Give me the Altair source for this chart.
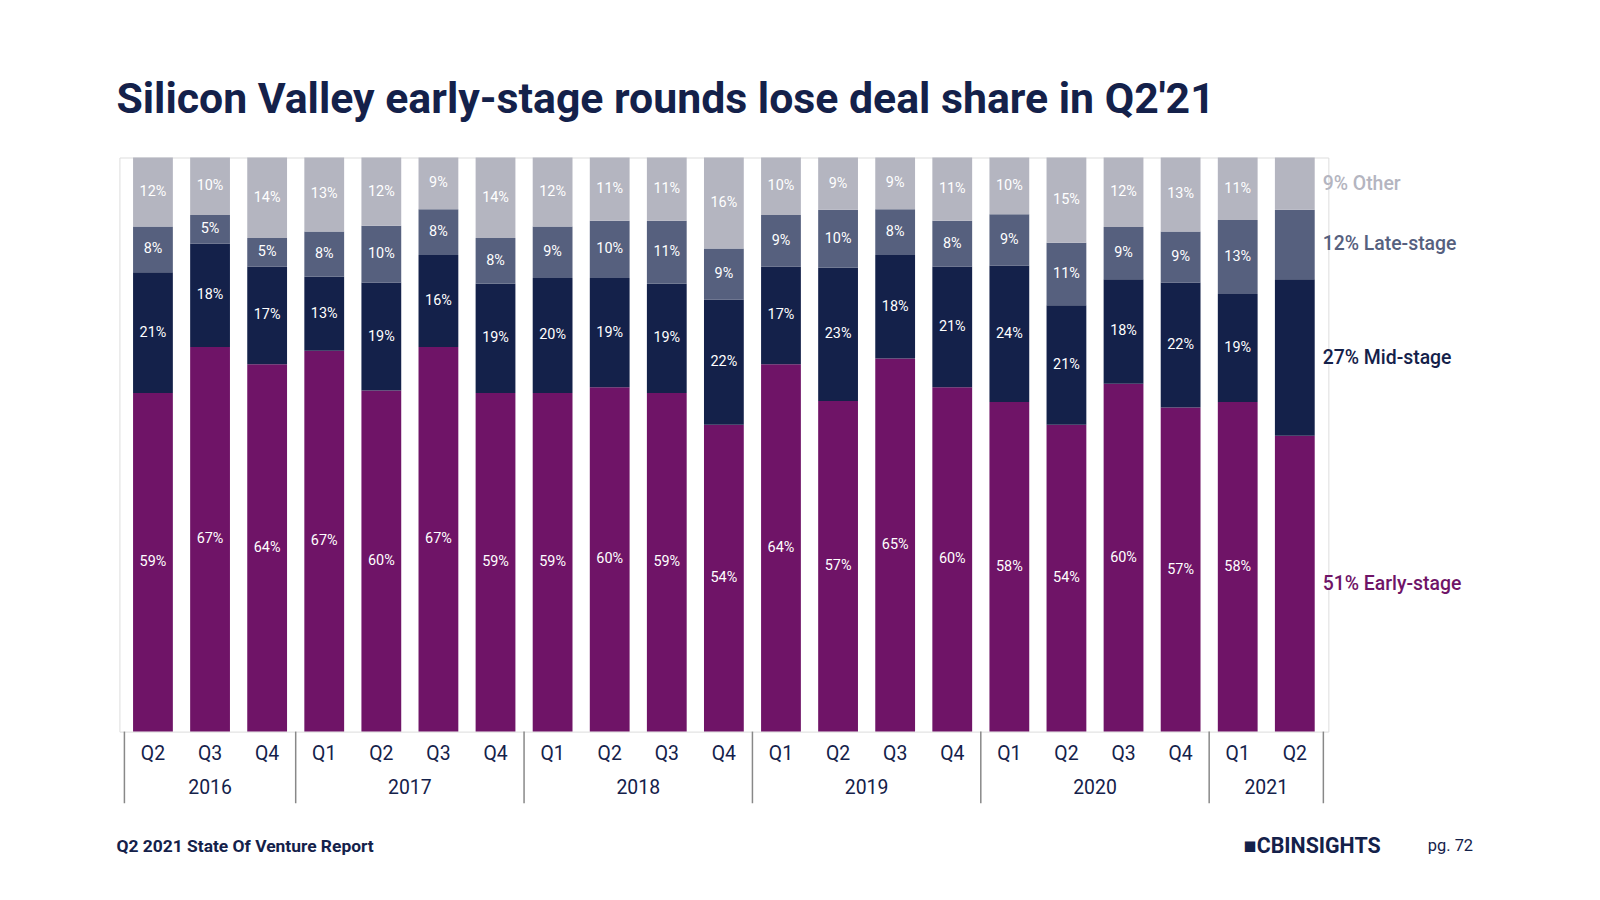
import altair as alt
import pandas as pd

quarters = ["Q2", "Q3", "Q4", "Q1", "Q2", "Q3", "Q4", "Q1", "Q2", "Q3", "Q4",
            "Q1", "Q2", "Q3", "Q4", "Q1", "Q2", "Q3", "Q4", "Q1", "Q2"]
years = ["2016", "2017", "2018", "2019", "2020", "2021"]
year_counts = [3, 4, 4, 4, 4, 2]

early = [59, 67, 64, 67, 60, 67, 59, 59, 60, 59, 54, 64, 57, 65, 60, 58, 54, 60, 57, 58, 51]
mid = [21, 18, 17, 13, 19, 16, 19, 20, 19, 19, 22, 17, 23, 18, 21, 24, 21, 18, 22, 19, 27]
late = [8, 5, 5, 8, 10, 8, 8, 9, 10, 11, 9, 9, 10, 8, 8, 9, 11, 9, 9, 13, 12]
other = [12, 10, 14, 13, 12, 9, 14, 12, 11, 11, 16, 10, 9, 9, 11, 10, 15, 12, 13, 11, 9]

stages = ["Early-stage", "Mid-stage", "Late-stage", "Other"]
colors = ["#6F1467", "#14214A", "#56607E", "#B4B5C0"]

rows = []
for i in range(len(quarters)):
    vals_i = [early[i], mid[i], late[i], other[i]]
    total = sum(vals_i)  # rounded shares don't always add to 100
    base = 0
    for s, v in zip(stages, vals_i):
        share = v * 100 / total
        rows.append({"i": i, "stage": s, "v": v, "y0": base, "y1": base + share,
                     "ym": base + share / 2, "label": f"{v}%", "last": i == len(quarters) - 1})
        base += share
df = pd.DataFrame(rows)

xs = alt.Scale(domain=[-0.5, 20.5], nice=False, zero=False)
ys = alt.Scale(domain=[0, 100], nice=False)
x = alt.X("i:Q", scale=xs, axis=None)
col = alt.Color("stage:N", scale=alt.Scale(domain=stages, range=colors), legend=None)

bars = alt.Chart(df).mark_bar(size=40).encode(
    x=x, y=alt.Y("y0:Q", scale=ys, axis=None), y2="y1:Q", color=col)

labels = alt.Chart(df).transform_filter("!datum.last").mark_text(
    color="white", font="Roboto", fontSize=14.5).encode(
    x=x, y=alt.Y("ym:Q", scale=ys, axis=None), text="label:N")

side = alt.Chart(df).transform_filter("datum.last").transform_calculate(
    txt="datum.label + ' ' + datum.stage").mark_text(
    align="left", dx=28, font="Roboto", fontSize=19.5, fontWeight=500).encode(
    x=x, y=alt.Y("ym:Q", scale=ys, axis=None), text="txt:N", color=col)

qdf = pd.DataFrame({"i": list(range(len(quarters))), "q": quarters})
qtext = alt.Chart(qdf).mark_text(font="Roboto", fontSize=19.5, color="#14214A").encode(
    x=x, y=alt.value(600), text="q:N")

starts, pos = [], 0
for c in year_counts:
    starts.append(pos)
    pos += c
ydf = pd.DataFrame({"yr": years, "m": [s + (c - 1) / 2 for s, c in zip(starts, year_counts)]})
ytext = alt.Chart(ydf).mark_text(font="Roboto", fontSize=19.5, color="#14214A").encode(
    x=alt.X("m:Q", scale=xs, axis=None), y=alt.value(634), text="yr:N")

bdf = pd.DataFrame({"b": [s - 0.5 for s in starts] + [20.5]})
seps = alt.Chart(bdf).mark_rule(color="#888888", strokeWidth=1.5).encode(
    x=alt.X("b:Q", scale=xs, axis=None), y=alt.value(577), y2=alt.value(649))

title = alt.Chart(pd.DataFrame({"t": ["Silicon Valley early-stage rounds lose deal share in Q2'21"]})).mark_text(
    align="left", font="Roboto", fontSize=43, fontWeight="bold", color="#14214A").encode(
    x=alt.value(-3), y=alt.value(-58), text="t:N")
foot = alt.Chart(pd.DataFrame({"t": ["Q2 2021 State Of Venture Report"]})).mark_text(
    align="left", font="Roboto", fontSize=17.5, fontWeight="bold", color="#14214A").encode(
    x=alt.value(-3), y=alt.value(693), text="t:N")
logo = alt.Chart(pd.DataFrame({"t": ["■CBINSIGHTS"]})).mark_text(
    align="left", font="Roboto", fontSize=21.5, fontWeight="bold", color="#14214A").encode(
    x=alt.value(1130), y=alt.value(693), text="t:N")
page = alt.Chart(pd.DataFrame({"t": ["pg. 72"]})).mark_text(
    align="left", font="Roboto", fontSize=16.5, color="#14214A").encode(
    x=alt.value(1315), y=alt.value(692), text="t:N")

chart = alt.layer(bars, labels, side, qtext, ytext, seps, title, foot, logo, page).properties(
    width=1215, height=577, autosize="none",
    padding={"left": 112, "top": 148, "right": 265, "bottom": 170},
).configure_view(strokeOpacity=0, strokeWidth=0).configure(background="white")

chart.save("out.html", embed_options={"renderer": "svg", "actions": False})
